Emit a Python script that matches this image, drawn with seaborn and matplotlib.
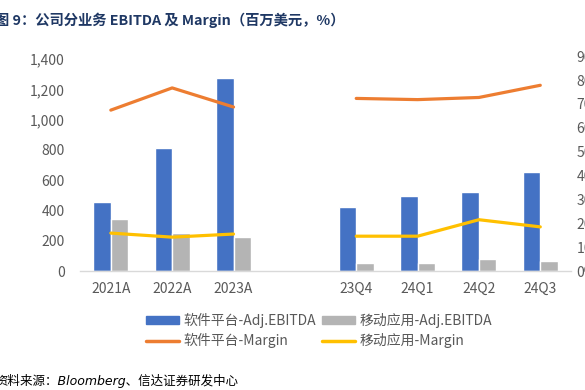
import numpy as np
import pandas as pd
import matplotlib
matplotlib.use('Agg')
import matplotlib.pyplot as plt
import seaborn as sns
from matplotlib.patches import Patch
from matplotlib.lines import Line2D

sns.set_theme(style='white')
plt.rcParams['font.family'] = ['Noto Sans CJK SC', 'DejaVu Sans']

# data (blank slot separates annual and quarterly)
categories = ['2021A', '2022A', '2023A', '', '23Q4', '24Q1', '24Q2', '24Q3']
software_ebitda = [457, 810, 1275, np.nan, 421, 493, 520, 654]
mobile_ebitda = [341, 251, 225, np.nan, 53, 53, 77, 64]
software_margin = [67.4, 76.7, 68.7, np.nan, 72.3, 71.8, 72.7, 77.8]
mobile_margin = [15.9, 14.2, 15.5, np.nan, 14.6, 14.6, 21.5, 18.5]

series_names = ['软件平台-Adj.EBITDA', '移动应用-Adj.EBITDA']
margin_names = ['软件平台-Margin', '移动应用-Margin']
left_ticks = [0, 200, 400, 600, 800, 1000, 1200, 1400]
right_ticks = [0, 10, 20, 30, 40, 50, 60, 70, 80, 90]

BLUE = '#4472C4'
GRAY = '#B4B4B4'
ORANGE = '#ED7D31'
YELLOW = '#FFC000'
TXT = '#595959'

df = pd.DataFrame({
    'category': categories * 2,
    'series': [series_names[0]] * len(categories) + [series_names[1]] * len(categories),
    'value': software_ebitda + mobile_ebitda,
})

fig = plt.figure(figsize=(5.85, 3.9), dpi=100)
ax = fig.add_axes([0.137, 0.305, 0.839, 0.551])

sns.barplot(data=df, x='category', y='value', hue='series', order=categories,
            hue_order=series_names, palette=[BLUE, GRAY], width=0.57,
            ax=ax, legend=False, errorbar=None, saturation=1)
ax.set_xlim(-0.5, len(categories) - 0.5)
ax.set_ylim(0, 1420)
ax.set_yticks(left_ticks)
ax.set_yticklabels([f'{v:,}' for v in left_ticks])
ax.set_xlabel('')
ax.set_ylabel('')

# margins on the secondary axis (right labels run off the edge, as in the source)
ax2 = ax.twinx()
x = np.arange(len(categories))
ax2.plot(x, software_margin, color=ORANGE, lw=2.3, solid_capstyle='round')
ax2.plot(x, mobile_margin, color=YELLOW, lw=2.3, solid_capstyle='round')
ax2.set_ylim(0, 90)
ax2.set_yticks(right_ticks)
ax2.set_yticklabels([f'{v}%' for v in right_ticks])

for a in (ax, ax2):
    for s in a.spines.values():
        s.set_visible(False)
    a.tick_params(length=0, labelsize=10, colors=TXT)
    a.grid(False)
ax.spines['bottom'].set_visible(True)
ax.spines['bottom'].set_color('#D9D9D9')
ax.spines['bottom'].set_linewidth(1)
ax.tick_params(axis='x', pad=8)
ax.tick_params(axis='y', pad=11)
ax2.tick_params(axis='y', pad=4)

handles = [
    Patch(color=BLUE, label=series_names[0]),
    Line2D([], [], color=ORANGE, lw=2.5, label=margin_names[0]),
    Patch(color=GRAY, label=series_names[1]),
    Line2D([], [], color=YELLOW, lw=2.5, label=margin_names[1]),
]
leg = fig.legend(handles=handles, ncol=2, loc='center', bbox_to_anchor=(0.545, 0.152),
                 frameon=False, fontsize=10, handlelength=2.4, handleheight=0.5,
                 handletextpad=0.3, columnspacing=0.4, labelspacing=0.35,
                 labelcolor=TXT)

fig.text(-0.008, 0.948, '图 9：公司分业务 EBITDA 及 Margin（百万美元，%）',
         fontsize=10.3, fontweight='bold', color='#1F3864', va='center', ha='left')
fig.text(-0.008, 0.023, '资料来源：Bloomberg、信达证券研发中心',
         fontsize=9, style='italic', color='#000000', va='center', ha='left',
         family=['DejaVu Sans', 'Noto Sans CJK SC'])

fig.savefig('out.png', dpi=100)
